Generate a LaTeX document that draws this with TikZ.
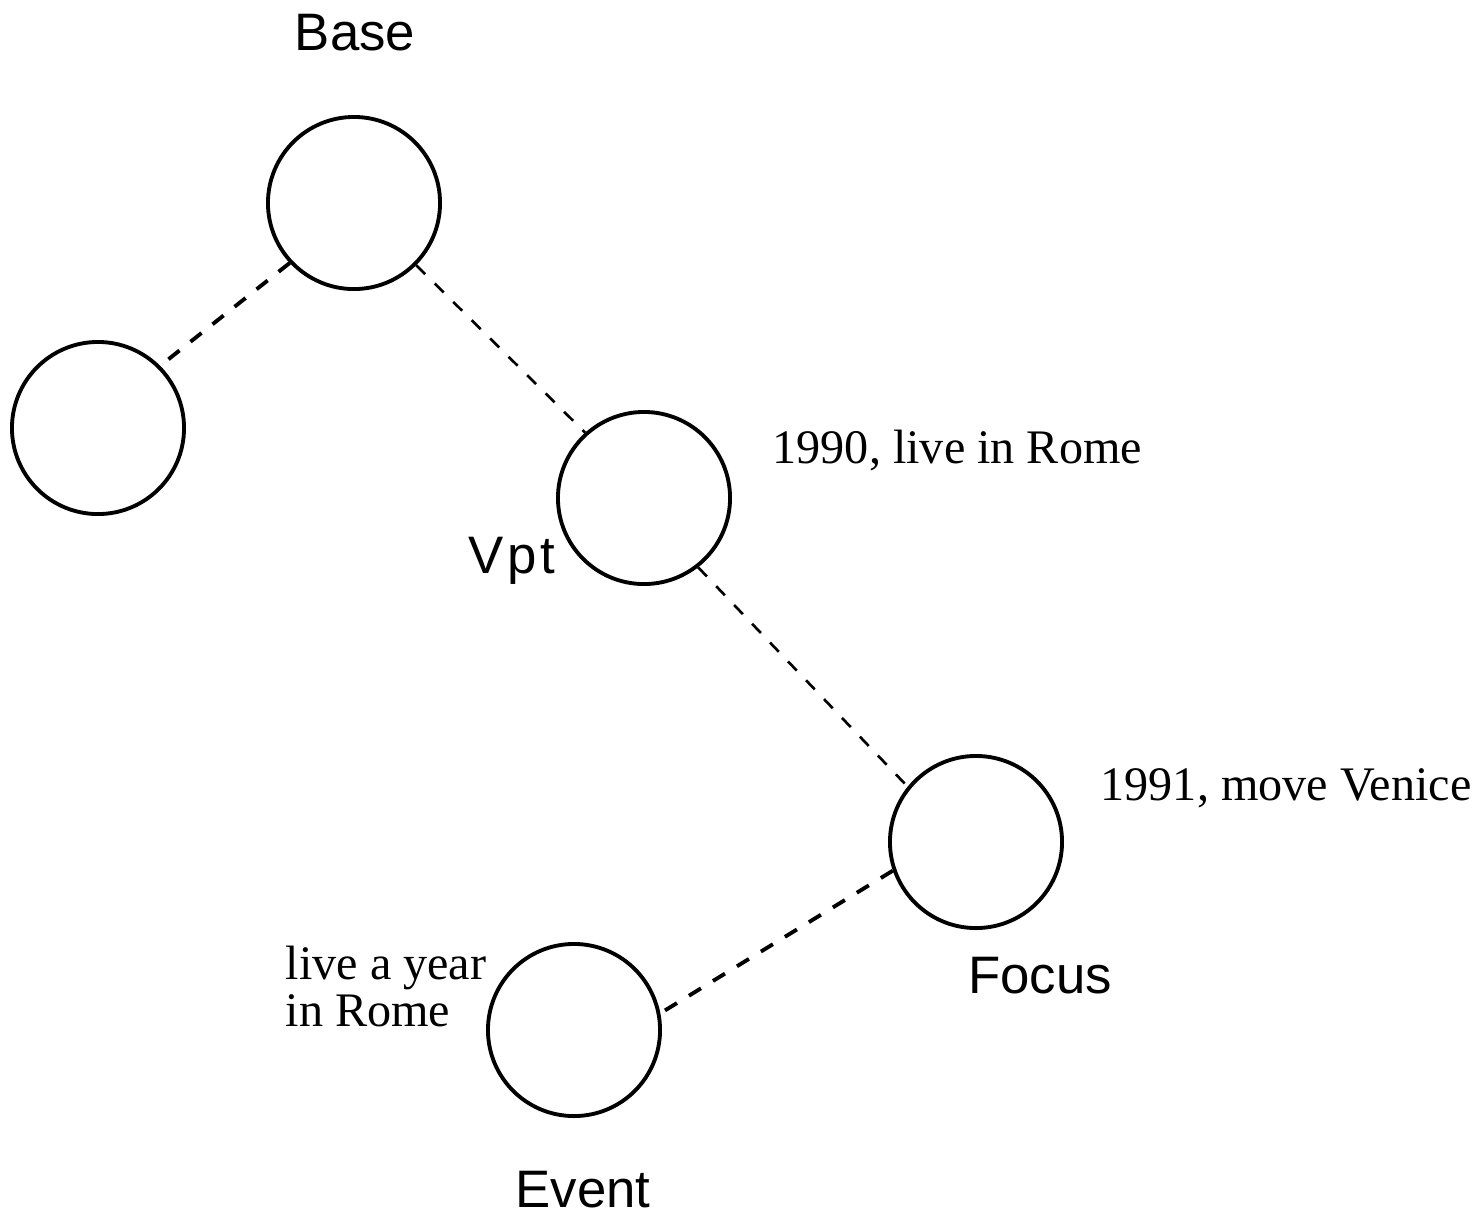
\documentclass[tikz,border=0pt]{standalone}
\usepackage{fontspec}
\setmainfont{Liberation Serif}
\setsansfont{Liberation Sans}
\begin{document}
\begin{tikzpicture}[x=0.01cm,y=-0.01cm,
  circ/.style={draw,circle,line width=1.1pt,minimum size=1.72cm,inner sep=0pt},
  thickdash/.style={line width=1.1pt,dash pattern=on 4pt off 4pt},
  thindash/.style={line width=0.75pt,dash pattern=on 3.6pt off 3.8pt},
  lab/.style={font=\sffamily\fontsize{15}{18}\selectfont,inner sep=0pt,anchor=base},
  note/.style={font=\fontsize{13.7}{13.4}\selectfont,inner sep=0pt}]
\useasboundingbox (0,0) rectangle (1479,1217);

%円
\node[circ](base) at (354,203){};
\node[circ](other) at (98,428){};
\node[circ](vpt) at (644,498){};
\node[circ](focus) at (976,842){};
\node[circ](event) at (574,1030){};

%点線
\draw[thickdash](base.223)--(other.45);
\draw[thindash](base.-45)--(vpt.132);
\draw[thindash](vpt.-52)--(focus.141);
\draw[thickdash](focus.199)--(event.11);

%ラベル
\node[lab](baselab) at (355,50){Base};
\node[lab](vptlab) at (512,573){V\kern1pt p\kern1pt t};
\node[lab](focuslab) at (1040,993){Focus};
\node[lab](eventlab) at (583,1207){Event};

%注記
\node[note,anchor=base west](vptnote) at (772,463){1990, live in Rome};
\node[note,anchor=base west](focusnote) at (1100,800){1991, move Venice};
\node[note,anchor=north west,align=left](eventnote) at (285,945){live a year\\in Rome};
\end{tikzpicture}
\end{document}
